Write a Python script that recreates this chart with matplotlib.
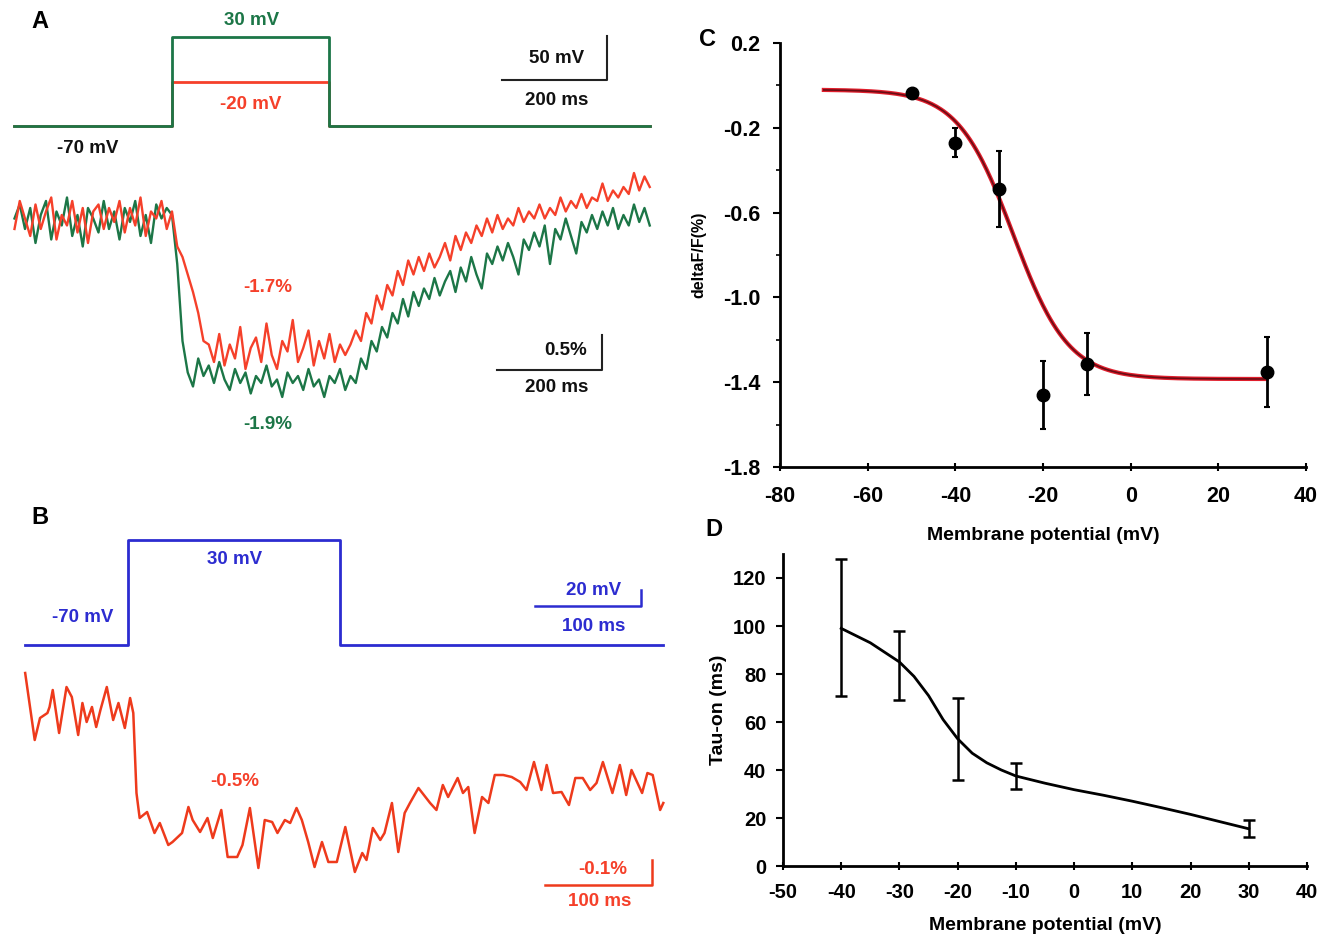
import matplotlib
matplotlib.use("Agg")
import matplotlib.pyplot as plt
import numpy as np

plt.rcParams['font.family'] = ['Liberation Sans', 'DejaVu Sans']
plt.rcParams['font.weight'] = 'bold'
plt.rcParams['axes.unicode_minus'] = False

# ---------------- data ----------------
# panel A: voltage protocol (ms, mV)
a_step_t = [0, 300, 300, 600, 600, 1210]
a_step_30 = [-70, -70, 30, 30, -70, -70]
a_step_m20 = [-70, -70, -20, -20, -70, -70]

# panel A: fluorescence traces (%), sampled every 10 ms from 0 to 1210 ms
a_t = np.arange(0, 1220, 10)
a_green = [
    0.05, 0.25, -0.1, 0.2, -0.3, 0.1, 0.3, -0.25, 0.15, -0.05,
    0.35, -0.2, 0.1, -0.35, 0.2, 0.05, -0.15, 0.3, -0.1, 0.15,
    -0.25, 0.2, 0.0, 0.3, -0.2, 0.1, -0.3, 0.25, 0.05, 0.2, 0.1,
    -0.6, -1.7, -2.15,
    -2.35, -1.95, -2.2, -2.05, -2.3, -2.0, -2.25, -2.4, -2.1, -2.3,
    -2.15, -2.45, -2.2, -2.3, -2.05, -2.35, -2.25, -2.5, -2.15, -2.3,
    -2.2, -2.4, -2.1, -2.35, -2.25, -2.5, -2.2, -2.3, -2.1, -2.4,
    -2.2,
    -2.3, -1.95, -2.1, -1.7, -1.85, -1.5, -1.65, -1.3, -1.45, -1.1,
    -1.35, -1.0, -1.2, -0.95, -1.1, -0.8, -1.05, -0.85, -0.7, -1.0,
    -0.65, -0.85, -0.5, -0.75, -0.95, -0.45, -0.6, -0.35, -0.55, -0.3,
    -0.5, -0.75, -0.25, -0.4, -0.15, -0.35, -0.05, -0.6, -0.1, -0.25,
    0.05, -0.2, -0.45, 0.0, -0.15, 0.1, -0.1, 0.15, -0.05, 0.2,
    -0.1, 0.1, -0.05, 0.25, 0.0, 0.2, -0.05]
a_red = [
    -0.1, 0.3, 0.05, -0.2, 0.25, -0.1, 0.15, 0.35, -0.25, 0.1,
    -0.05, 0.3, -0.15, 0.2, -0.3, 0.15, 0.25, -0.1, 0.2, 0.0,
    0.3, -0.15, 0.2, -0.05, 0.35, -0.2, 0.15, 0.05, 0.3, -0.1, 0.15,
    -0.35, -0.5, -0.75, -1.0, -1.3, -1.7, -1.75, -2.0,
    -1.6, -2.05, -1.75, -1.95, -1.5, -2.1, -1.8, -1.65, -2.0, -1.45,
    -1.9, -2.1, -1.7, -1.85, -1.4, -2.0, -1.8, -1.55, -2.05, -1.7,
    -1.95, -1.6, -2.0, -1.75, -1.9,
    -1.75, -1.55, -1.7, -1.3, -1.45, -1.05, -1.25, -0.9, -1.05, -0.7,
    -0.9, -0.55, -0.75, -0.5, -0.7, -0.45, -0.65, -0.5, -0.3, -0.55,
    -0.2, -0.4, -0.15, -0.3, -0.05, -0.2, 0.05, -0.15, 0.1, -0.1,
    0.05, -0.05, 0.2, 0.0, 0.15, 0.05, 0.25, 0.05, 0.2, 0.1,
    0.35, 0.15, 0.3, 0.2, 0.4, 0.2, 0.35, 0.3, 0.55, 0.3,
    0.45, 0.35, 0.5, 0.4, 0.7, 0.45, 0.65, 0.5]

# panel B: voltage protocol (ms, mV)
b_step_t = [3, 100, 100, 300, 300, 605]
b_step_v = [-70, -70, 30, 30, -70, -70]

# panel B: fluorescence trace (ms, %)
b_t = [3, 12, 17, 24, 26, 29, 35, 42, 47, 53, 57, 61, 66, 70, 74, 80, 86, 91,
       97, 102, 105, 108, 111, 118, 125, 130, 138, 142, 151, 157, 161, 168,
       175, 180, 188, 194, 203, 208, 215, 223, 229, 236, 241, 248, 253, 259,
       264, 270, 276, 283, 289, 297, 305, 314, 321, 325, 331, 338, 342, 349,
       355, 361, 366, 374, 385, 391, 397, 402, 411, 416, 421, 427, 434, 440,
       446, 454, 462, 470, 476, 483, 490, 495, 501, 509, 516, 522, 529, 536,
       542, 548, 557, 564, 570, 575, 585, 590, 595, 602, 605]
b_f = [0.14, -0.128, -0.04, -0.02, 0.004, 0.072, -0.10, 0.084, 0.044, -0.108,
       0.02, -0.056, 0.004, -0.076, -0.008, 0.084, -0.048, 0.02, -0.08, 0.04,
       -0.02, -0.34, -0.44, -0.416, -0.50, -0.46, -0.548, -0.536, -0.50,
       -0.396, -0.448, -0.496, -0.44, -0.52, -0.408, -0.596, -0.596, -0.548,
       -0.40, -0.64, -0.448, -0.456, -0.50, -0.448, -0.46, -0.40, -0.448,
       -0.536, -0.636, -0.536, -0.616, -0.616, -0.476, -0.656, -0.58, -0.608,
       -0.48, -0.528, -0.50, -0.38, -0.576, -0.42, -0.38, -0.32, -0.38,
       -0.408, -0.308, -0.356, -0.28, -0.34, -0.316, -0.50, -0.356, -0.38,
       -0.268, -0.268, -0.276, -0.296, -0.328, -0.216, -0.328, -0.228, -0.34,
       -0.336, -0.388, -0.28, -0.28, -0.328, -0.30, -0.216, -0.34, -0.228,
       -0.348, -0.248, -0.34, -0.26, -0.268, -0.408, -0.38]

# panel C: amplitude vs membrane potential
c_v = [-50, -40, -30, -20, -10, 31]
c_df = [-0.035, -0.27, -0.49, -1.46, -1.315, -1.35]
c_err = [0.02, 0.07, 0.18, 0.16, 0.145, 0.165]
# Boltzmann fit: top, bottom, V1/2, slope
c_fit = (-0.02, -1.385, -26.8, 6.3)

# panel D: tau-on vs membrane potential
d_v = [-40, -30, -20, -10, 30]
d_tau = [99, 83, 53, 37.5, 15.5]
d_err_lo = [28, 14, 17, 5.5, 3.5]
d_err_hi = [29, 15, 17, 5.5, 3.5]
d_line_v = [-40, -35, -30, -27.5, -25, -22.5, -20, -17.5, -15, -12.5, -10,
            -5, 0, 5, 10, 15, 20, 25, 30]
d_line_tau = [99, 93, 85, 79, 71, 61, 53, 47, 43, 40, 37.5,
              34.5, 31.8, 29.5, 27, 24.3, 21.5, 18.5, 15.5]

# ---------------- figure ----------------
W, H = 1339, 941
fig = plt.figure(figsize=(W / 100, H / 100), dpi=100)

def px_axes(x0, y0, x1, y1):
    ax = fig.add_axes([x0 / W, 1 - y1 / H, (x1 - x0) / W, (y1 - y0) / H])
    return ax

def blank(ax):
    ax.set_axis_off()
    ax.patch.set_alpha(0)

green = '#1c7647'
red = '#f5402a'
blue = '#2c2cd0'
fs = 13.5

# ---- panel A ----
axAv = px_axes(0, 0, 670, 460)
axAf = px_axes(0, 0, 670, 460)
for ax in (axAv, axAf):
    blank(ax)
    ax.set_xlim(-27.6, 1248.6)
axAv.set_ylim(-445.3, 71.6)
axAf.set_ylim(-3.4, 3.171)

axAv.plot(a_step_t, a_step_m20, color=red, lw=2)
axAv.plot(a_step_t, a_step_30, color=green, lw=2)
axAv.plot([928.6, 1128.6, 1128.6], [-18.3, -18.3, 31.7], color='#222222', lw=1.5)
axAv.text(452, 49, '30 mV', color=green, fontsize=fs, ha='center', va='center')
axAv.text(449, -46, '-20 mV', color=red, fontsize=fs, ha='center', va='center')
axAv.text(140, -95, '-70 mV', color='#111111', fontsize=fs, ha='center', va='center')
axAv.text(1033, 6, '50 mV', color='#111111', fontsize=fs, ha='center', va='center')
axAv.text(1033, -41, '200 ms', color='#111111', fontsize=fs, ha='center', va='center')

axAf.plot(a_t, a_green, color=green, lw=1.7)
axAf.plot(a_t, a_red, color=red, lw=1.7)
axAf.plot([919, 1119, 1119], [-2.114, -2.114, -1.614], color='#222222', lw=1.5)
axAf.text(483, -0.94, '-1.7%', color=red, fontsize=fs, ha='center', va='center')
axAf.text(483, -2.9, '-1.9%', color=green, fontsize=fs, ha='center', va='center')
axAf.text(1049, -1.83, '0.5%', color='#111111', fontsize=fs, ha='center', va='center')
axAf.text(1033, -2.37, '200 ms', color='#111111', fontsize=fs, ha='center', va='center')

# ---- panel B ----
axBv = px_axes(0, 480, 680, 941)
axBf = px_axes(0, 480, 680, 941)
for ax in (axBv, axBf):
    blank(ax)
    ax.set_xlim(-20.75, 620.75)
axBv.set_ylim(-351.9, 87.1)
axBf.set_ylim(-0.932, 0.912)

axBv.plot(b_step_t, b_step_v, color=blue, lw=2)
axBv.plot([484, 584, 584], [-32.9, -32.9, -17.9], color=blue, lw=1.8)
axBv.text(201, 11, '30 mV', color=blue, fontsize=fs, ha='center', va='center')
axBv.text(57, -44, '-70 mV', color=blue, fontsize=fs, ha='center', va='center')
axBv.text(539, -18, '20 mV', color=blue, fontsize=fs, ha='center', va='center')
axBv.text(539, -52, '100 ms', color=blue, fontsize=fs, ha='center', va='center')

axBf.plot(b_t, b_f, color='#ee3a1c', lw=1.8)
axBf.plot([493, 594, 594], [-0.708, -0.708, -0.608], color='#ee3a1c', lw=1.8)
axBf.text(201, -0.296, '-0.5%', color=red, fontsize=fs, ha='center', va='center')
axBf.text(548, -0.648, '-0.1%', color=red, fontsize=fs, ha='center', va='center')
axBf.text(545, -0.776, '100 ms', color=red, fontsize=fs, ha='center', va='center')

# ---- panel C ----
axC = px_axes(780, 43, 1306, 467)
top, bottom, vh, k = c_fit
vfit = np.linspace(-70, 31, 300)
ffit = top + (bottom - top) / (1 + np.exp(-(vfit - vh) / k))
axC.plot(vfit, ffit, color='#e01e2c', lw=3.0)
axC.plot(vfit, ffit, color='#6a0c14', lw=1.2)
axC.errorbar(c_v, c_df, yerr=c_err, fmt='o', color='black', ms=9,
             elinewidth=2, capsize=2.5, capthick=1.5)
axC.set_xlim(-80, 40)
axC.set_ylim(-1.8, 0.2)
axC.set_xticks([-80, -60, -40, -20, 0, 20, 40])
axC.set_yticks([0.2, -0.2, -0.6, -1.0, -1.4, -1.8])
axC.set_yticklabels(['0.2', '-0.2', '-0.6', '-1.0', '-1.4', '-1.8'])
axC.set_yticks([0.0, -0.4, -0.8, -1.2, -1.6], minor=True)
axC.set_xlabel('Membrane potential (mV)', fontsize=14, fontweight='bold', labelpad=14)
axC.set_ylabel('deltaF/F(%)', fontsize=11.5, fontweight='bold', labelpad=12)
axC.tick_params(axis='x', direction='inout', length=6, width=1.5, pad=11, labelsize=15.5)
axC.tick_params(axis='y', direction='out', length=5, width=1.5, pad=9, labelsize=15.5)
axC.tick_params(axis='y', which='minor', direction='out', length=3, width=1.2)

# ---- panel D ----
axD = px_axes(783, 554, 1307, 866)
axD.plot(d_line_v, d_line_tau, color='black', lw=2)
axD.errorbar(d_v, d_tau, yerr=[d_err_lo, d_err_hi], fmt='none', ecolor='black',
             elinewidth=1.8, capsize=4, capthick=1.8)
axD.set_xlim(-50, 40)
axD.set_ylim(0, 130)
axD.set_xticks(range(-50, 41, 10))
axD.set_yticks(range(0, 121, 20))
axD.set_xlabel('Membrane potential (mV)', fontsize=14, fontweight='bold', labelpad=11)
axD.set_ylabel('Tau-on (ms)', fontsize=14, fontweight='bold', labelpad=4)
axD.tick_params(axis='x', direction='inout', length=6, width=1.5, pad=9, labelsize=14.5)
axD.tick_params(axis='y', direction='out', length=5, width=1.5, pad=7, labelsize=14.5)

for ax in (axC, axD):
    for side in ('top', 'right'):
        ax.spines[side].set_visible(False)
    for side in ('left', 'bottom'):
        ax.spines[side].set_linewidth(2)
    for lab in ax.get_xticklabels() + ax.get_yticklabels():
        lab.set_fontweight('bold')

# panel letters
for letter, x, y in [('A', 40, 22), ('B', 40, 518), ('C', 707, 40), ('D', 714, 530)]:
    fig.text(x / W, 1 - y / H, letter, fontsize=17, fontweight='bold',
             ha='center', va='center')

fig.savefig('out.png', dpi=100)
